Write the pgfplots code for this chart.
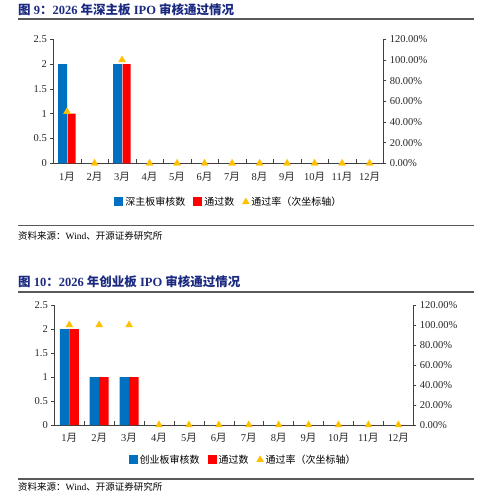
\documentclass[border=0pt]{standalone}
\usepackage{fontspec}
\setmainfont{Liberation Serif}
\newfontfamily\cjk{Noto Sans CJK SC}
\usepackage{pgfplots}
\pgfplotsset{compat=1.18}

\definecolor{barblue}{HTML}{0070C0}
\definecolor{barred}{HTML}{FF0000}
\definecolor{rategold}{HTML}{FFC000}
\definecolor{titleblue}{HTML}{1B2A80}
\definecolor{rulegray}{HTML}{595959}
\definecolor{axisgray}{HTML}{404040}

\pgfplotsset{
  ipobars/.style={
    scale only axis,
    xmin=0.5, xmax=12.5, ymin=0, ymax=2.5,
    axis y line*=left, axis x line*=bottom,
    axis line style={axisgray, line width=0.6pt},
    ytick={0,0.5,...,2.5},
    yticklabels={0,0.5,1,1.5,2,2.5},
    xtick={1,...,12},
    xticklabels={1{\cjk 月},2{\cjk 月},3{\cjk 月},4{\cjk 月},5{\cjk 月},6{\cjk 月},
                 7{\cjk 月},8{\cjk 月},9{\cjk 月},10{\cjk 月},11{\cjk 月},12{\cjk 月}},
    minor xtick={0.5,1.5,...,12.5},
    tick align=outside,
    major tick length=3pt, minor tick length=4pt,
    x tick style={draw=none},
    minor x tick style={draw=axisgray, line width=0.6pt, yshift=4pt},
    y tick style={axisgray, line width=0.6pt},
    tick label style={font=\fontsize{10.5}{12}\selectfont, text=black!85},
    xticklabel style={yshift=-2pt},
    ybar, bar width=9pt,
    legend columns=3,
    legend cell align=left,
    legend style={draw=none, fill=none, font=\fontsize{10}{11}\selectfont\cjk,
      /tikz/every even column/.append style={column sep=6pt}},
  },
  iporate/.style={
    scale only axis,
    xmin=0.5, xmax=12.5, ymin=0, ymax=1.2,
    axis y line*=right, axis x line=none,
    axis line style={axisgray, line width=0.6pt},
    ytick={0,0.2,...,1.2},
    yticklabels={0.00\%,20.00\%,40.00\%,60.00\%,80.00\%,100.00\%,120.00\%},
    tick align=outside, major tick length=3pt,
    y tick style={axisgray, line width=0.6pt},
    tick label style={font=\fontsize{10.5}{12}\selectfont, text=black!85},
    clip=false,
  },
  barlegend/.style={legend image code/.code={\fill[##1, draw=none] (0pt,-4.5pt) rectangle (9pt,4.5pt);}},
  ratelegend/.style={legend image code/.code={%
    \draw[rategold, fill=rategold] plot[mark=triangle*, mark size=4pt, only marks] coordinates {(4.5pt,0pt)};}},
}

\begin{document}
\begin{tikzpicture}[x=1pt, y=1pt]
\useasboundingbox (0,0) rectangle (486,493);

% ---------------- Figure 9 ----------------
\node[anchor=base west, inner sep=0pt, text=titleblue, font=\fontsize{12.5}{14}\selectfont\bfseries]
  at (18,478.5) {{\cjk 图} 9{\cjk ：}2026 {\cjk 年深主板} IPO {\cjk 审核通过情况}};
\draw[rulegray, line width=1.2pt] (18,474) -- (474,474);

\begin{axis}[ipobars, at={(53.3pt,329.7pt)}, anchor=south west, width=330pt, height=124pt,
  legend style={at={(0.532,-0.312)}, anchor=center}]
  \addplot[barblue, fill=barblue, draw=none, bar shift=-4.5pt, barlegend]
    coordinates {(1,2) (2,0) (3,2) (4,0) (5,0) (6,0) (7,0) (8,0) (9,0) (10,0) (11,0) (12,0)};
  \addlegendentry{深主板审核数}
  \addplot[barred, fill=barred, draw=none, bar shift=4.5pt, bar width=8pt, barlegend]
    coordinates {(1,1) (2,0) (3,2) (4,0) (5,0) (6,0) (7,0) (8,0) (9,0) (10,0) (11,0) (12,0)};
  \addlegendentry{通过数}
  \addlegendimage{ratelegend}
  \addlegendentry{通过率（次坐标轴）}
\end{axis}
\begin{axis}[iporate, at={(53.3pt,329.7pt)}, anchor=south west, width=330pt, height=124pt]
  \addplot[only marks, mark=triangle*, mark size=4pt, rategold]
    coordinates {(1,0.5) (2,0) (3,1) (4,0) (5,0) (6,0) (7,0) (8,0) (9,0) (10,0) (11,0) (12,0)};
\end{axis}

\draw[rulegray, line width=1.2pt] (18,267.7) -- (474,267.7);
\node[anchor=base west, inner sep=0pt, font=\fontsize{9.5}{11}\selectfont]
  at (18,253.5) {{\cjk 资料来源：}Wind{\cjk 、开源证券研究所}};

% ---------------- Figure 10 ----------------
\node[anchor=base west, inner sep=0pt, text=titleblue, font=\fontsize{12.5}{14}\selectfont\bfseries]
  at (18,206.5) {{\cjk 图} 10{\cjk ：}2026 {\cjk 年创业板} IPO {\cjk 审核通过情况}};
\draw[rulegray, line width=1.2pt] (18,201) -- (474,201);

\begin{axis}[ipobars, at={(54.3pt,68pt)}, anchor=south west, width=359pt, height=120pt,
  bar width=9.5pt,
  legend style={at={(0.526,-0.29)}, anchor=center}]
  \addplot[barblue, fill=barblue, draw=none, bar shift=-4.75pt, barlegend]
    coordinates {(1,2) (2,1) (3,1) (4,0) (5,0) (6,0) (7,0) (8,0) (9,0) (10,0) (11,0) (12,0)};
  \addlegendentry{创业板审核数}
  \addplot[barred, fill=barred, draw=none, bar shift=4.75pt, barlegend]
    coordinates {(1,2) (2,1) (3,1) (4,0) (5,0) (6,0) (7,0) (8,0) (9,0) (10,0) (11,0) (12,0)};
  \addlegendentry{通过数}
  \addlegendimage{ratelegend}
  \addlegendentry{通过率（次坐标轴）}
\end{axis}
\begin{axis}[iporate, at={(54.3pt,68pt)}, anchor=south west, width=359pt, height=120pt]
  \addplot[only marks, mark=triangle*, mark size=4pt, rategold]
    coordinates {(1,1) (2,1) (3,1) (4,0) (5,0) (6,0) (7,0) (8,0) (9,0) (10,0) (11,0) (12,0)};
\end{axis}

\draw[rulegray, line width=1.2pt] (18,14) -- (474,14);
\node[anchor=base west, inner sep=0pt, font=\fontsize{9.5}{11}\selectfont]
  at (18,2.5) {{\cjk 资料来源：}Wind{\cjk 、开源证券研究所}};
\end{tikzpicture}
\end{document}
